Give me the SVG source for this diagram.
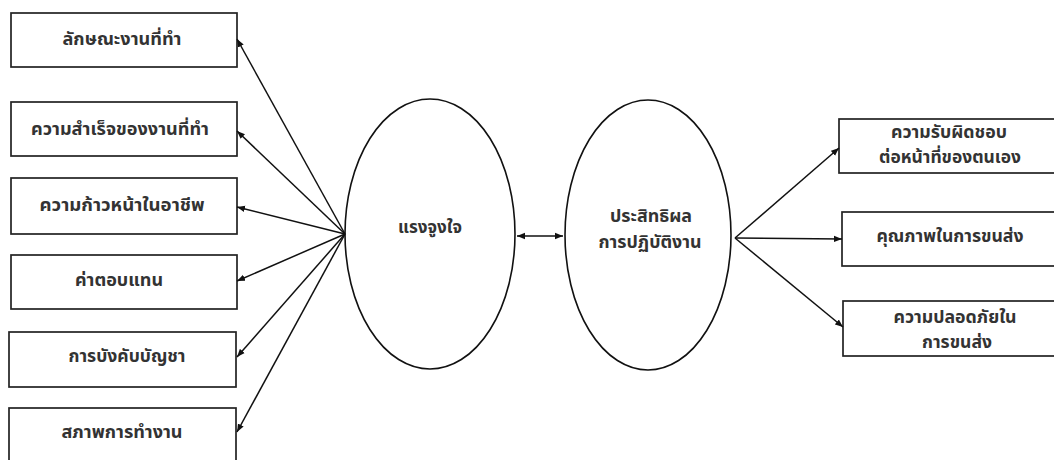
<svg xmlns="http://www.w3.org/2000/svg" width="1054" height="460" viewBox="0 0 1054 460">
<defs>
<style>
.box{fill:#fff;stroke:#222;stroke-width:1.7}
.ell{fill:#fff;stroke:#111;stroke-width:1.6}
.t{font-family:"Noto Sans Thai","Noto Sans","DejaVu Sans",sans-serif;font-size:17px;font-weight:bold;fill:#333;text-anchor:middle}
.c{stroke:#111;stroke-width:1.5;fill:none}
</style>
<marker id="ah" viewBox="0 0 10 10" refX="10" refY="5" markerWidth="8" markerHeight="8" markerUnits="userSpaceOnUse" orient="auto-start-reverse">
<path d="M0,1 L10,5 L0,9 z" fill="#111"/>
</marker>
</defs>
<rect width="1054" height="460" fill="#fff"/>
<g id="n1"><rect class="box" x="11" y="13" width="226" height="54"/><text class="t" x="122" y="45" textLength="119" lengthAdjust="spacingAndGlyphs">ลักษณะงานที่ทำ</text></g>
<g id="n2"><rect class="box" x="11" y="102" width="226" height="54"/><text class="t" x="120" y="135" textLength="178" lengthAdjust="spacingAndGlyphs">ความสำเร็จของงานที่ทำ</text></g>
<g id="n3"><rect class="box" x="11" y="178" width="226" height="56"/><text class="t" x="122" y="211" textLength="165" lengthAdjust="spacingAndGlyphs">ความก้าวหน้าในอาชีพ</text></g>
<g id="n4"><rect class="box" x="11" y="255" width="226" height="54"/><text class="t" x="119" y="286" textLength="88" lengthAdjust="spacingAndGlyphs">ค่าตอบแทน</text></g>
<g id="n5"><rect class="box" x="9" y="332" width="227" height="55"/><text class="t" x="127" y="362" textLength="117" lengthAdjust="spacingAndGlyphs">การบังคับบัญชา</text></g>
<g id="n6"><rect class="box" x="9" y="408" width="227" height="60"/><text class="t" x="122" y="438" textLength="121" lengthAdjust="spacingAndGlyphs">สภาพการทำงาน</text></g>
<g id="e1"><ellipse class="ell" cx="430" cy="234" rx="85" ry="135"/><text class="t" x="430" y="233" textLength="64" lengthAdjust="spacingAndGlyphs">แรงจูงใจ</text></g>
<g id="e2"><ellipse class="ell" cx="648" cy="235" rx="83" ry="135"/><text class="t" x="651" y="222" textLength="82" lengthAdjust="spacingAndGlyphs">ประสิทธิผล</text><text class="t" x="650" y="248" textLength="103" lengthAdjust="spacingAndGlyphs">การปฏิบัติงาน</text></g>
<g id="r1"><rect class="box" x="839" y="119" width="230" height="54"/><text class="t" x="949" y="138" textLength="116" lengthAdjust="spacingAndGlyphs">ความรับผิดชอบ</text><text class="t" x="950" y="163" textLength="142" lengthAdjust="spacingAndGlyphs">ต่อหน้าที่ของตนเอง</text></g>
<g id="r2"><rect class="box" x="842" y="212" width="230" height="54"/><text class="t" x="950" y="242" textLength="147" lengthAdjust="spacingAndGlyphs">คุณภาพในการขนส่ง</text></g>
<g id="r3"><rect class="box" x="843" y="301" width="230" height="55"/><text class="t" x="955" y="323" textLength="123" lengthAdjust="spacingAndGlyphs">ความปลอดภัยใน</text><text class="t" x="957" y="348" textLength="70" lengthAdjust="spacingAndGlyphs">การขนส่ง</text></g>
<g id="connectors">
<line class="c" x1="345" y1="234" x2="237" y2="39" marker-end="url(#ah)"/>
<line class="c" x1="345" y1="234" x2="237" y2="131" marker-end="url(#ah)"/>
<line class="c" x1="345" y1="234" x2="237" y2="207" marker-end="url(#ah)"/>
<line class="c" x1="345" y1="234" x2="237" y2="281" marker-end="url(#ah)"/>
<line class="c" x1="345" y1="234" x2="237" y2="357" marker-end="url(#ah)"/>
<line class="c" x1="345" y1="234" x2="237" y2="432" marker-end="url(#ah)"/>
<line class="c" x1="517" y1="236" x2="563" y2="236" marker-start="url(#ah)" marker-end="url(#ah)"/>
<line class="c" x1="735" y1="238" x2="839" y2="148" marker-end="url(#ah)"/>
<line class="c" x1="735" y1="238" x2="842" y2="239" marker-end="url(#ah)"/>
<line class="c" x1="735" y1="238" x2="843" y2="327" marker-end="url(#ah)"/>
</g>
</svg>
